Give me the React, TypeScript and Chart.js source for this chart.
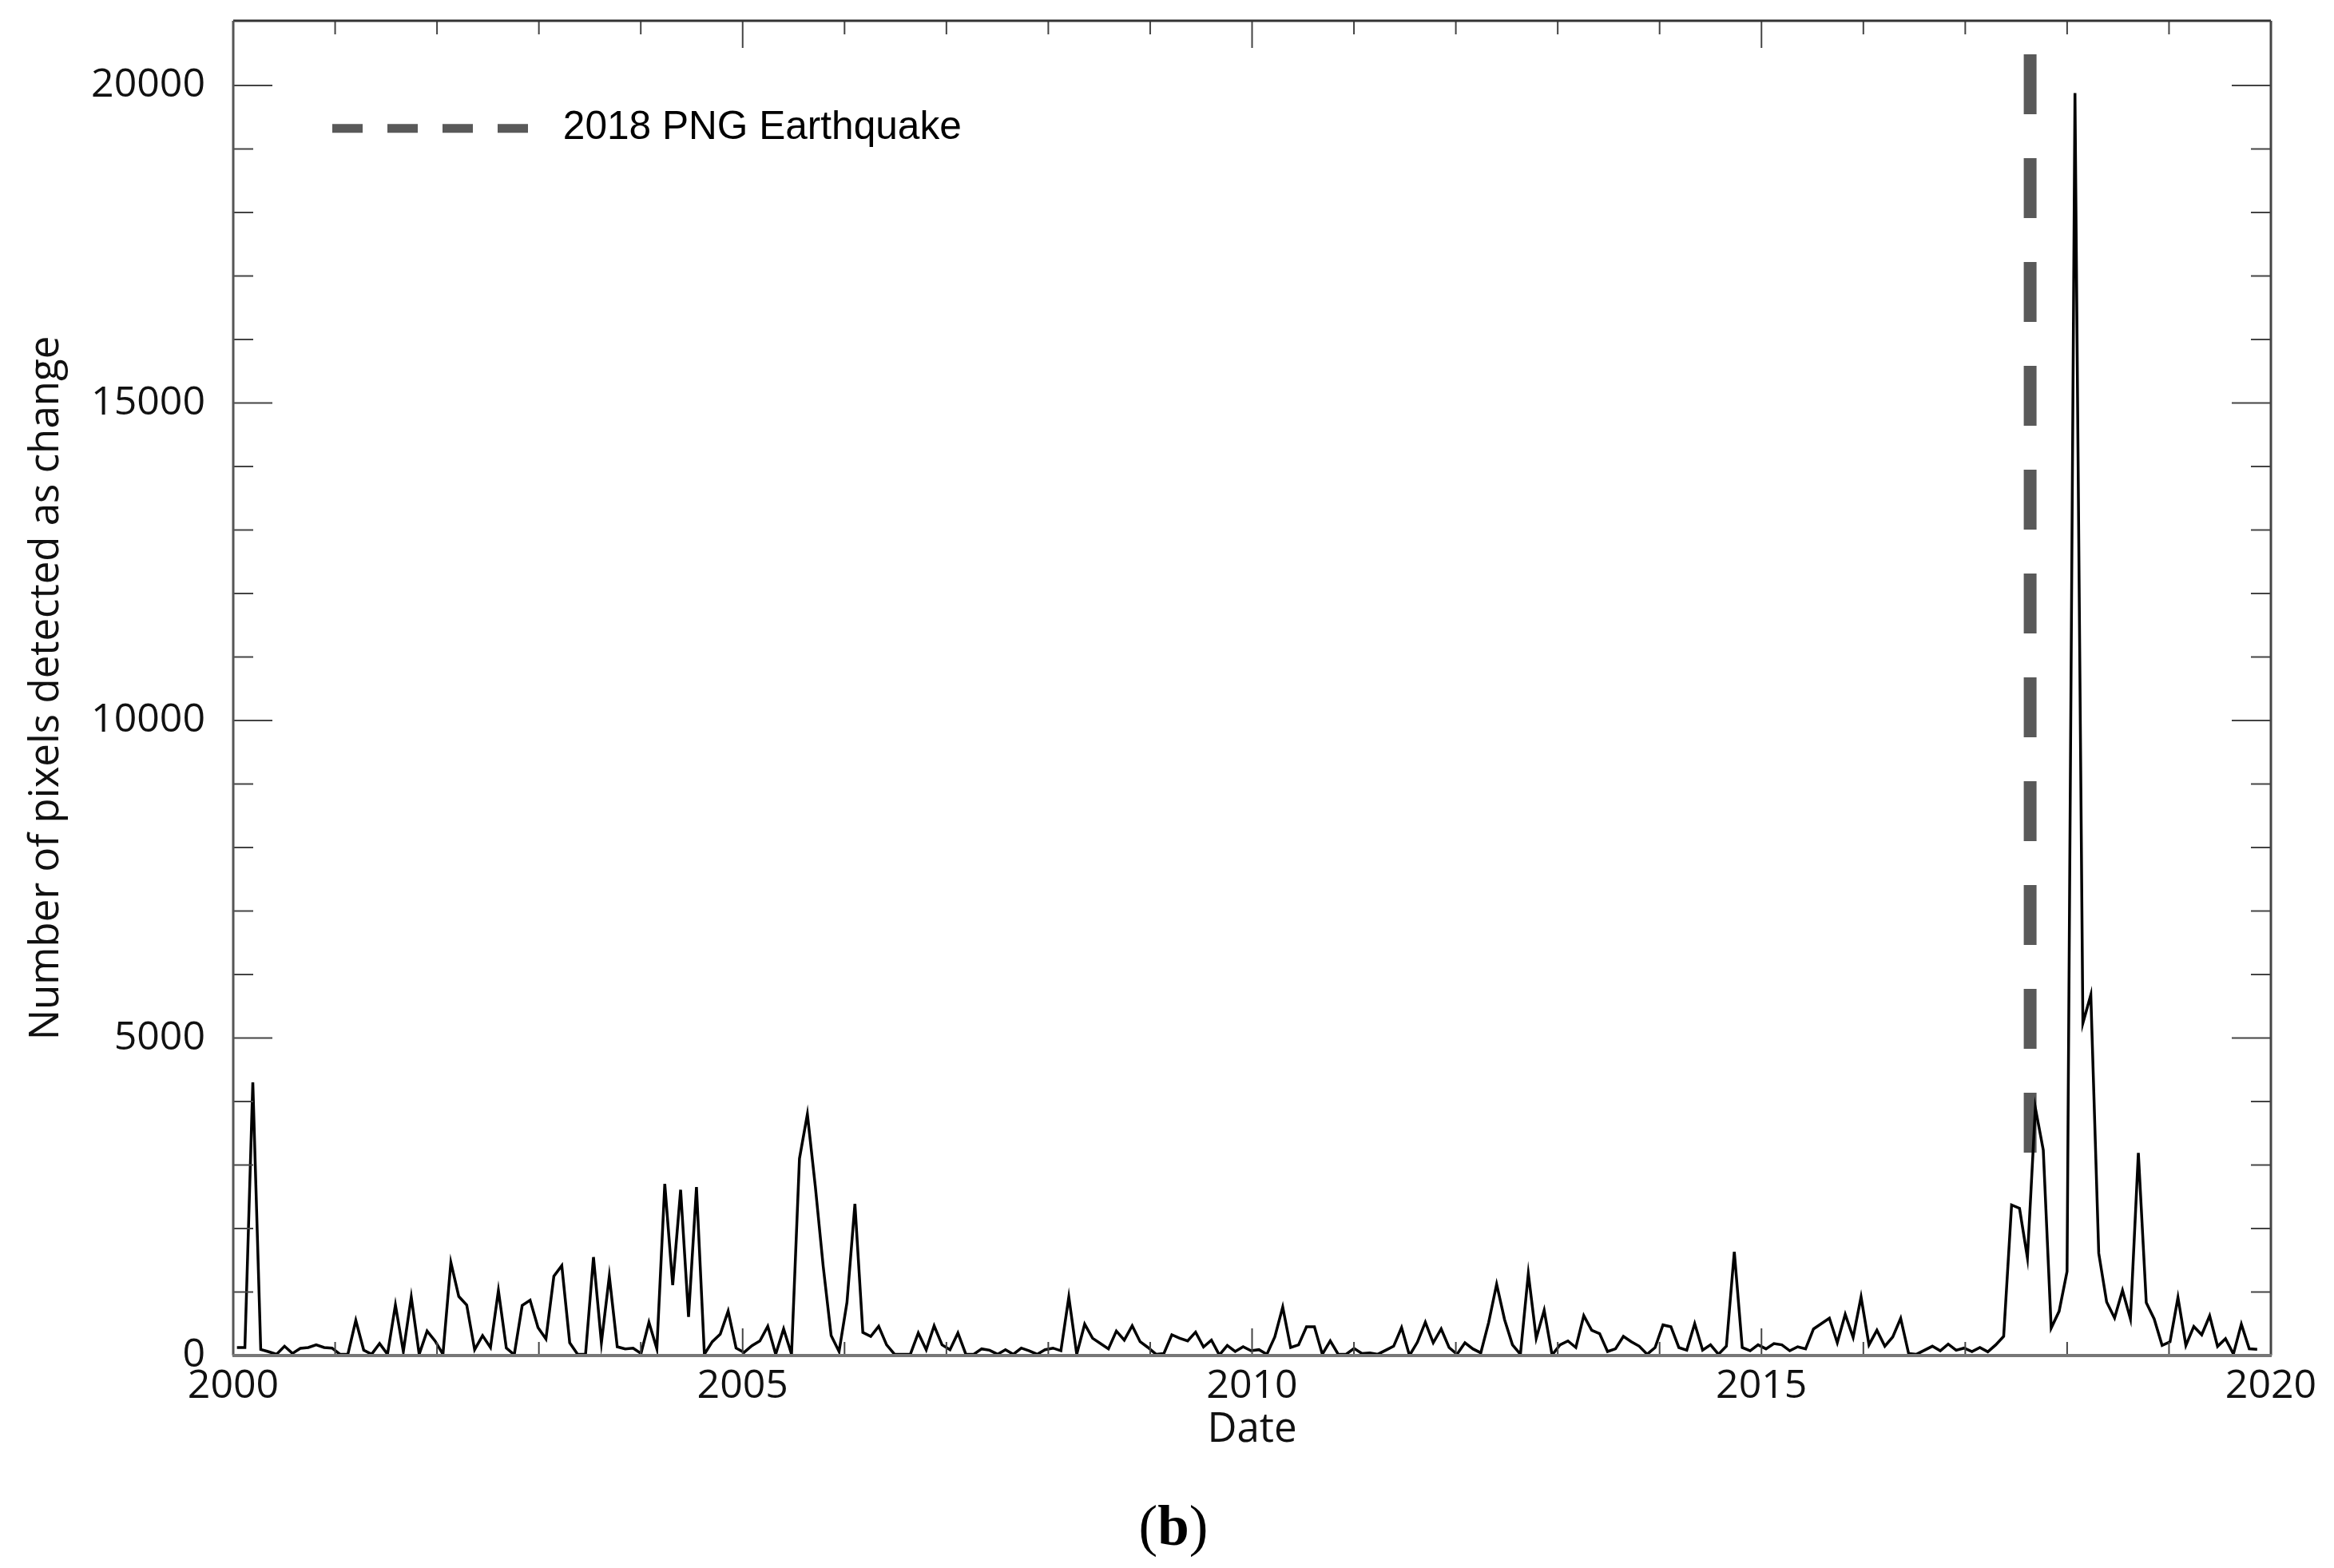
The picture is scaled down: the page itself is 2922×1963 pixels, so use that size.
import React, { useEffect, useRef } from "react";
import { Chart, registerables } from "chart.js";

Chart.register(...registerables);

const sampleStartYear = 2000.0366;
const sampleStepYears = 0.07776;

const countsA = [126,126,4300,96,60,20,147,33,113,126,168,126,117,20,20,553,84,20,189,20,796,63,922,20,385,230,20,1466,930,796,92,314,126,1026,117,12,788];
const countsB = [871,440,260,1249,1416,201,20,20,1550,201,1249,138,105,117,33,524,105,2703,1110,2610,608,2652,20,218,335,700,117,50,155,230,461,20,419,20,3100,3800];
const countsC = [2665,1400,314,63,838,2388,364,300,461,168,20,20,20,356,92,469,168,92,356,20,20,105,84,20,92,20,117,75,20,92,117,75,922,20,494,272,189];
const countsD = [105,385,243,469,218,126,20,33,327,272,230,369,134,243,8,159,63,138,75,92,20,293,763,126,168,453,453,20,230,20,20,113,33,42,20,84,147];
const countsE = [440,0,210,524,201,419,126,20,201,105,42,524,1123,566,168,20,1290,272,712,8,168,230,126,628,398,344,63,105,302,218,147,20,126,482,453,126,84];
const countsF = [503,84,168,20,147,1634,126,75,168,105,189,168,75,138,105,419,503,587,201,649,285,922,168,398,147,293,587,33,20,84,147,75,180,84,117,63,126];
const countsG = [58,168,303,2371,2318,1539,3900,3237,433,697,1323,19880,5235,5680,1611,842,592,1025,577,3190,832,577,159,216,914,159,457,327,625,144,265,24,495,106,96];

const seriesValues = [...countsA, ...countsB, ...countsC, ...countsD, ...countsE, ...countsF, ...countsG];

const earthquakeYear = [2017.637, 2017.637];
const earthquakeSpan = [20490, 3157];

const xMajorTicks = [2000, 2005, 2010, 2015, 2020];
const xMinorTicks = [2001,2002,2003,2004,2006,2007,2008,2009,2011,2012,2013,2014,2016,2017,2018,2019];
const yMajorTicks = [0, 5000, 10000, 15000, 20000];
const yMinorTicks = [1000,2000,3000,4000,6000,7000,8000,9000,11000,12000,13000,14000,16000,17000,18000,19000];

const yAxisMax = 21019;
const legendLabel = "2018 PNG Earthquake";
const xAxisTitle = "Date";
const yAxisTitle = "Number of pixels detected as change";

const framePlugin = {
  id: "frameAndTicks",
  beforeDraw(chart: any) {
    const lg = chart.legend;
    if (lg) {
      lg.left = 416;
      lg.right = 1400;
      lg.top = 136;
      lg.bottom = 190;
    }
  },
  afterDatasetsDraw(chart: any) {
    const { ctx, chartArea: a, scales } = chart;
    const x = scales.x;
    const y = scales.y;
    ctx.save();
    ctx.lineCap = "butt";
    const seg = (x1: number, y1: number, x2: number, y2: number, c: string, w: number) => {
      ctx.beginPath();
      ctx.strokeStyle = c;
      ctx.lineWidth = w;
      ctx.moveTo(x1, y1);
      ctx.lineTo(x2, y2);
      ctx.stroke();
    };
    const xTick = (v: number, len: number) => {
      const p = x.getPixelForValue(v);
      seg(p, a.bottom, p, a.bottom - len, "#444444", 2);
      seg(p, a.top, p, a.top + len, "#444444", 2);
    };
    const yTick = (v: number, len: number) => {
      const p = y.getPixelForValue(v);
      seg(a.left, p, a.left + len, p, "#444444", 2);
      seg(a.right, p, a.right - len, p, "#444444", 2);
    };
    xMajorTicks.forEach((v) => xTick(v, 34));
    xMinorTicks.forEach((v) => xTick(v, 17));
    yMajorTicks.forEach((v) => yTick(v, 49));
    yMinorTicks.forEach((v) => yTick(v, 25));
    seg(a.left, a.top, a.right, a.top, "#333333", 3);
    seg(a.left, a.top, a.left, a.bottom, "#555555", 3);
    seg(a.right, a.top, a.right, a.bottom, "#444444", 3);
    seg(a.left - 1, a.bottom, a.right + 1, a.bottom, "#777777", 4);
    ctx.restore();
  },
};

export default function App() {
  const ref = useRef<HTMLCanvasElement | null>(null);
  useEffect(() => {
    document.body.style.margin = "0";
    document.body.style.background = "#ffffff";
    const tickFont = { family: "'Open Sans'", size: 50 };
    const chart = new Chart(ref.current as HTMLCanvasElement, {
      type: "line",
      data: {
        datasets: [
          {
            label: "Pixels detected as change",
            data: seriesValues.map((v, i) => ({ x: sampleStartYear + i * sampleStepYears, y: v })),
            borderColor: "#000000",
            borderWidth: 3.5,
            pointRadius: 0,
            tension: 0,
            fill: false,
          },
          {
            label: legendLabel,
            data: earthquakeYear.map((v, i) => ({ x: v, y: earthquakeSpan[i] })),
            borderColor: "#595959",
            borderWidth: 16,
            borderDash: [75, 55],
            pointRadius: 0,
            tension: 0,
            fill: false,
          },
        ],
      },
      options: {
        animation: false,
        responsive: false,
        devicePixelRatio: 1,
        parsing: false,
        layout: { padding: { left: 0, top: 26, right: 79, bottom: 0 } },
        plugins: {
          tooltip: { enabled: false },
          legend: {
            display: true,
            position: "chartArea",
            align: "start",
            labels: {
              boxWidth: 264,
              boxHeight: 0,
              padding: 0,
              color: "#111111",
              font: { family: "'Liberation Sans'", size: 49.6 },
              generateLabels: () => [
                {
                  text: legendLabel,
                  fillStyle: "rgba(0,0,0,0)",
                  strokeStyle: "#595959",
                  lineWidth: 11,
                  lineDash: [38, 31, 38, 31, 38, 31, 38, 283],
                  lineCap: "butt",
                  datasetIndex: 1,
                },
              ],
            },
          },
        },
        scales: {
          x: {
            type: "linear",
            min: 2000,
            max: 2020,
            grid: { display: false, drawTicks: false },
            border: { display: false },
            afterBuildTicks: (s: any) => {
              s.ticks = xMajorTicks.map((value) => ({ value }));
            },
            afterFit: (s: any) => {
              s.height = 266;
              s.paddingLeft = 0;
              s.paddingRight = 0;
            },
            ticks: {
              padding: 9,
              maxRotation: 0,
              autoSkip: false,
              color: "#111111",
              font: tickFont,
              callback: (v: any) => String(v),
            },
            title: {
              display: true,
              text: xAxisTitle,
              color: "#111111",
              font: { family: "'Open Sans'", size: 51 },
              padding: { top: 0, bottom: 142 },
            },
          },
          y: {
            type: "linear",
            min: 0,
            max: yAxisMax,
            grid: { display: false, drawTicks: false },
            border: { display: false },
            afterBuildTicks: (s: any) => {
              s.ticks = yMajorTicks.map((value) => ({ value }));
            },
            afterFit: (s: any) => {
              s.width = 292;
              s.paddingTop = 0;
              s.paddingBottom = 0;
            },
            ticks: {
              padding: 35,
              autoSkip: false,
              color: "#111111",
              font: tickFont,
              callback: (v: any) => String(v),
            },
            title: {
              display: true,
              text: yAxisTitle,
              color: "#111111",
              font: { family: "'Open Sans'", size: 51 },
              padding: { top: 28, bottom: 0 },
            },
          },
        },
      } as any,
      plugins: [framePlugin],
    } as any);
    return () => chart.destroy();
  }, []);
  return (
    <div style={{ position: "relative", width: 2922, height: 1963, overflow: "hidden", background: "#ffffff" }}>
      <canvas ref={ref} width={2922} height={1963} style={{ position: "absolute", left: 0, top: 0, display: "block" }} />
      <div
        style={{
          position: "absolute",
          left: 1469,
          top: 1870,
          transform: "translateX(-50%)",
          fontFamily: "'Liberation Serif'",
          fontSize: 71,
          lineHeight: "80px",
          color: "#000000",
          whiteSpace: "nowrap",
        }}
      >
        (<b>b</b>)
      </div>
    </div>
  );
}
